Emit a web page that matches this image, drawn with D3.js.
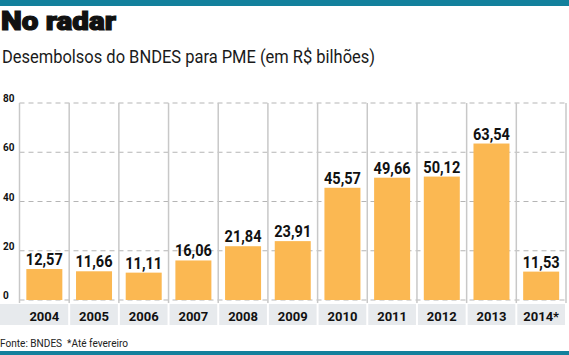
<!DOCTYPE html>
<html><head><meta charset="utf-8">
<script src="https://cdn.jsdelivr.net/npm/d3@7"></script>
<style>body{margin:0;background:#fff}svg{display:block}</style>
</head><body>
<script>
const years = ["2004","2005","2006","2007","2008","2009","2010","2011","2012","2013","2014*"];
const values = [12.57,11.66,11.11,16.06,21.84,23.91,45.57,49.66,50.12,63.54,11.53];
const yTicks = [0,20,40,60,80];
const title = "No radar";
const subtitle = "Desembolsos do BNDES para PME (em R$ bilhões)";
const source = "Fonte: BNDES  *Até fevereiro";

const W = 569, H = 355;
const svg = d3.select("body").append("svg").attr("width", W).attr("height", H);
const teal = "#13809c";

svg.append("rect").attr("x",0).attr("y",0).attr("width",W).attr("height",6).attr("fill",teal);
svg.append("rect").attr("x",0).attr("y",351).attr("width",W).attr("height",4).attr("fill",teal);

svg.append("text").attr("x",1).attr("y",30).text(title)
  .attr("font-family","Roboto, sans-serif").attr("font-weight",900).attr("font-size",26)
  .attr("stroke","#111").attr("stroke-width",1.2)
  .attr("textLength",115).attr("lengthAdjust","spacingAndGlyphs").attr("fill","#111");
svg.append("text").attr("x",2).attr("y",63).text(subtitle)
  .attr("font-family","Roboto, sans-serif").attr("font-weight",400).attr("font-size",19)
  .attr("textLength",373).attr("lengthAdjust","spacingAndGlyphs").attr("fill","#1a1a1a");

const x = d3.scaleBand().domain(years).range([19.5, 566]).padding(0);
const y = d3.scaleLinear().domain([0,80]).range([300,103]);

// x-axis band cells
svg.append("g").selectAll("rect").data(years).join("rect")
  .attr("x", (d,i) => i === 0 ? 0 : x(d) + 1)
  .attr("width", (d,i) => i === 0 ? x(d) + x.bandwidth() - 1 : x.bandwidth() - 2)
  .attr("y", 304).attr("height", 21).attr("fill", "#e7eaed");

// gridlines
svg.append("g").selectAll("line").data(yTicks).join("line")
  .attr("x1", 19.5).attr("x2", 566).attr("y1", d => y(d)).attr("y2", d => y(d))
  .attr("stroke", "#b5b5b5").attr("stroke-width", 1).attr("stroke-dasharray", "5,4");

// vertical separators
const seps = years.map(d => x(d)).concat([x(years[years.length-1]) + x.bandwidth()]);
svg.append("g").selectAll("line").data(seps).join("line")
  .attr("x1", d => d).attr("x2", d => d).attr("y1", 103).attr("y2", 303)
  .attr("stroke", "#c8c8c8").attr("stroke-width", 1.5);

// y labels
svg.append("g").selectAll("text").data(yTicks).join("text")
  .attr("x", 3).attr("y", d => y(d) - 1).text(d => d)
  .attr("font-family","Roboto, sans-serif").attr("font-weight",700).attr("font-size",10).attr("fill","#111");

// bars
const bw = 36;
svg.append("g").selectAll("rect").data(values).join("rect")
  .attr("x", (d,i) => x(years[i]) + (x.bandwidth() - bw)/2)
  .attr("width", bw)
  .attr("y", d => y(d)).attr("height", d => y(0) - y(d))
  .attr("fill", "#fbb852");

// value labels
const fmt = v => v.toFixed(2).replace(".", ",");
svg.append("g").selectAll("text").data(values).join("text")
  .attr("x", (d,i) => x(years[i]) + x.bandwidth()/2)
  .attr("y", d => y(d) - 4)
  .attr("text-anchor","middle").text(fmt)
  .attr("font-family","Roboto, sans-serif").attr("font-weight",700).attr("font-size",17)
  .attr("textLength",37).attr("lengthAdjust","spacingAndGlyphs").attr("fill","#111");

// year labels
svg.append("g").selectAll("text").data(years).join("text")
  .attr("x", d => x(d) + x.bandwidth()/2).attr("y", 321)
  .attr("text-anchor","middle").text(d => d)
  .attr("font-family","Roboto, sans-serif").attr("font-weight",700).attr("font-size",13).attr("fill","#111");

svg.append("text").attr("x",0).attr("y",347).text(source)
  .attr("font-family","Roboto, sans-serif").attr("font-size",11).attr("xml:space","preserve")
  .attr("textLength",128).attr("lengthAdjust","spacingAndGlyphs").attr("fill","#222");
</script>
</body></html>
